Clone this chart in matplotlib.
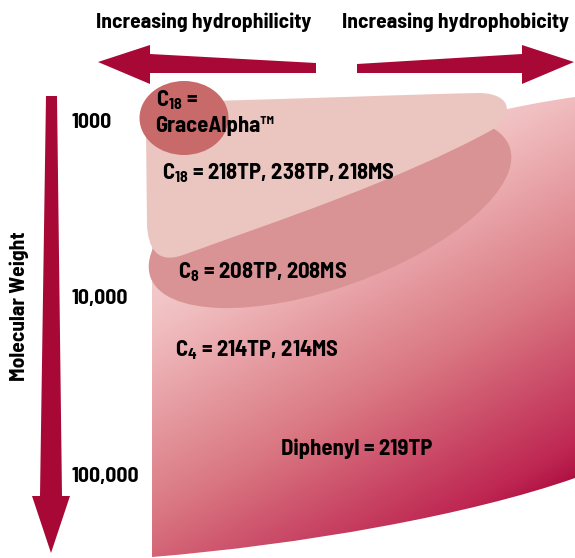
import numpy as np
import matplotlib
matplotlib.use("Agg")
import matplotlib.pyplot as plt
from matplotlib.path import Path
from matplotlib.patches import PathPatch, Ellipse, Polygon
from matplotlib.colors import LinearSegmentedColormap

# ---- data ----
direction_labels = ["Increasing hydrophilicity", "Increasing hydrophobicity"]
axis_label = "Molecular Weight"
mw_ticks = ["1000", "10,000", "100,000"]
phase_labels = ["C$_{18}$ =", "GraceAlpha™",
                "C$_{18}$ = 218TP, 238TP, 218MS",
                "C$_{8}$ = 208TP, 208MS",
                "C$_{4}$ = 214TP, 214MS",
                "Diphenyl = 219TP"]

plt.rcParams['font.family'] = ['Barlow Semi Condensed', 'DejaVu Sans']
plt.rcParams['font.weight'] = 'bold'
plt.rcParams['mathtext.default'] = 'regular'

W, H = 575, 558
fig = plt.figure(figsize=(W / 100, H / 100), dpi=100)
ax = fig.add_axes([0, 0, 1, 1])
ax.set_xlim(0, W)
ax.set_ylim(H, 0)
ax.axis('off')

crimson = '#a80835'

# ---- diphenyl (gradient) region ----
M, L, C = Path.MOVETO, Path.LINETO, Path.CURVE4
dverts = [(152, 200), (152, 557),
          (300, 545), (470, 515), (575, 478),
          (575, 97),
          (540, 102), (520, 106), (480, 115),
          (152, 200)]
dcodes = [M, L, C, C, C, L, C, C, C, Path.CLOSEPOLY]
dpatch = PathPatch(Path(dverts, dcodes), facecolor='none', edgecolor='none')
ax.add_patch(dpatch)
xs = np.linspace(150, 576, 400)
ys = np.linspace(90, 558, 400)
X, Y = np.meshgrid(xs, ys)
traw = 0.56 * X + Y
stops = [(330, '#f4d6d6'), (420, '#f0bcbe'), (600, '#da7882'), (770, '#be2652'), (815, '#a8083a')]
lo, hi = stops[0][0], stops[-1][0]
T = np.clip((traw - lo) / (hi - lo), 0, 1)
cmap = LinearSegmentedColormap.from_list('g', [((v - lo) / (hi - lo), c) for v, c in stops])
im = ax.imshow(T, cmap=cmap, extent=[150, 576, 558, 90], origin='upper',
               aspect='auto', zorder=1, interpolation='bilinear')
im.set_clip_path(dpatch)

# ---- C8 ellipse ----
ax.add_patch(Ellipse((330, 212), 382, 150, angle=-20, facecolor='#d99394',
                     edgecolor='none', zorder=2))

# ---- C18 light region ----
lverts = [(170, 102),
          (300, 99), (420, 94), (480, 93),
          (514, 94), (514, 117), (490, 131),
          (400, 180), (280, 220), (183, 255),
          (155, 265), (148, 245), (147, 225),
          (146, 130),
          (146, 108), (155, 103), (170, 102),
          (170, 102)]
lcodes = [M, C, C, C, C, C, C, C, C, C, C, C, C, L, C, C, C, Path.CLOSEPOLY]
ax.add_patch(PathPatch(Path(lverts, lcodes), facecolor='#ebc6c1',
                       edgecolor='none', zorder=3))

# ---- GraceAlpha ellipse ----
ax.add_patch(Ellipse((184, 118), 89, 74, facecolor='#c86a6a', edgecolor='none', zorder=4))

# ---- arrows ----
ax.add_patch(Polygon([(316, 63), (150, 54), (150, 45), (98, 62), (150, 84),
                      (150, 73), (316, 73)], closed=True, facecolor=crimson,
                     edgecolor='none', zorder=5))
ax.add_patch(Polygon([(357, 64), (522, 54), (522, 45), (574, 62), (522, 84),
                      (522, 73), (357, 73)], closed=True, facecolor=crimson,
                     edgecolor='none', zorder=5))
ax.add_patch(Polygon([(46, 96), (57, 96), (62, 496), (70, 496), (51, 553),
                      (32, 496), (40, 496)], closed=True, facecolor=crimson,
                     edgecolor='none', zorder=5))

# ---- texts ----
fs = 15.5
pfs = 16.3
ax.text(204, 22, direction_labels[0], ha='center', va='center', fontsize=fs, zorder=6)
ax.text(455, 22, direction_labels[1], ha='center', va='center', fontsize=fs, zorder=6)
ax.text(19, 306, axis_label, rotation=90, ha='center', va='center', fontsize=fs, zorder=6)
for lab, y in zip(mw_ticks, [123, 299, 476]):
    ax.text(71, y, lab, ha='left', va='center', fontsize=fs, zorder=6)

ax.text(156, 100, phase_labels[0], ha='left', va='center', fontsize=pfs, zorder=6)
ax.text(155, 126, phase_labels[1], ha='left', va='center', fontsize=pfs, zorder=6)
ax.text(162, 173, phase_labels[2], ha='left', va='center', fontsize=pfs, zorder=6)
ax.text(178, 272, phase_labels[3], ha='left', va='center', fontsize=pfs, zorder=6)
ax.text(175, 350, phase_labels[4], ha='left', va='center', fontsize=pfs, zorder=6)
ax.text(281, 449, phase_labels[5], ha='left', va='center', fontsize=pfs, zorder=6)

fig.savefig('out.png', dpi=100)
